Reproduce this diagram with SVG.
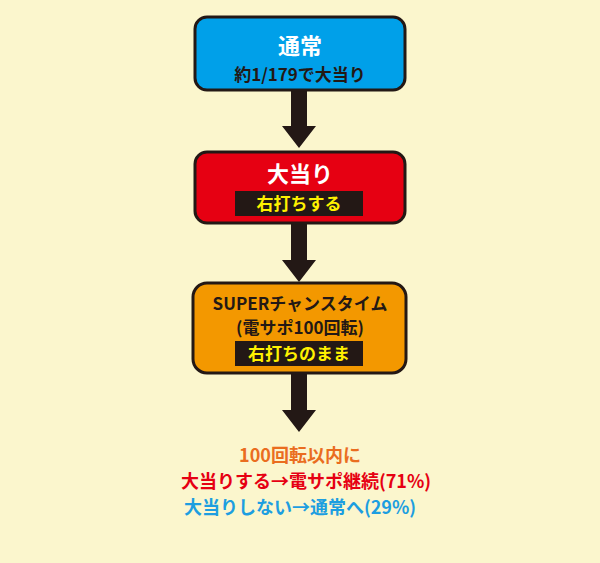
<svg xmlns="http://www.w3.org/2000/svg" width="600" height="563" viewBox="0 0 600 563">
<style>
text{font-family:"Noto Sans CJK JP","Noto Sans",sans-serif;font-weight:bold;text-anchor:middle}
.box{stroke:#231815;stroke-width:3}
.t{fill:#fff;font-size:22px}
.s{fill:#231815;font-size:17px}
.y{fill:#fff100;font-size:17px}
.b{fill:#231815}
</style>
<rect width="600" height="563" fill="#fbf6cd"/>
<g id="connectors" fill="#231815">
<polygon points="291,90 307,90 307,126 316,126 299,148 282,126 291,126"/>
<polygon points="291,223 307,223 307,260 316,260 299,282 282,260 291,260"/>
<polygon points="291,373 307,373 307,410 316,410 299,432 282,410 291,410"/>
</g>
<g id="normal">
<rect class="box" x="195" y="17" width="210" height="73" rx="12" fill="#00a0e9"/>
<text class="t" x="300" y="54">通常</text>
<text class="s" x="300" y="81">約1/179で大当り</text>
</g>
<g id="jackpot">
<rect class="box" x="195" y="152" width="210" height="71" rx="12" fill="#e60012"/>
<text class="t" x="300" y="182">大当り</text>
<rect class="b" x="235" y="191" width="128" height="25"/>
<text class="y" x="299" y="210">右打ちする</text>
</g>
<g id="super">
<rect class="box" x="193" y="283" width="213" height="90" rx="14" fill="#f39800"/>
<text class="s" x="300" y="310">SUPERチャンスタイム</text>
<text class="s" x="300" y="334">(電サポ100回転)</text>
<rect class="b" x="235" y="341" width="128" height="25"/>
<text class="y" x="299" y="360">右打ちのまま</text>
</g>
<g id="result" font-size="18">
<text x="300" y="462" fill="#ea6d1f" font-size="18">100回転以内に</text>
<text x="306" y="488" fill="#e60012" font-size="18">大当りする→電サポ継続(71%)</text>
<text x="300" y="514" fill="#1d9ee0" font-size="18">大当りしない→通常へ(29%)</text>
</g>
</svg>
